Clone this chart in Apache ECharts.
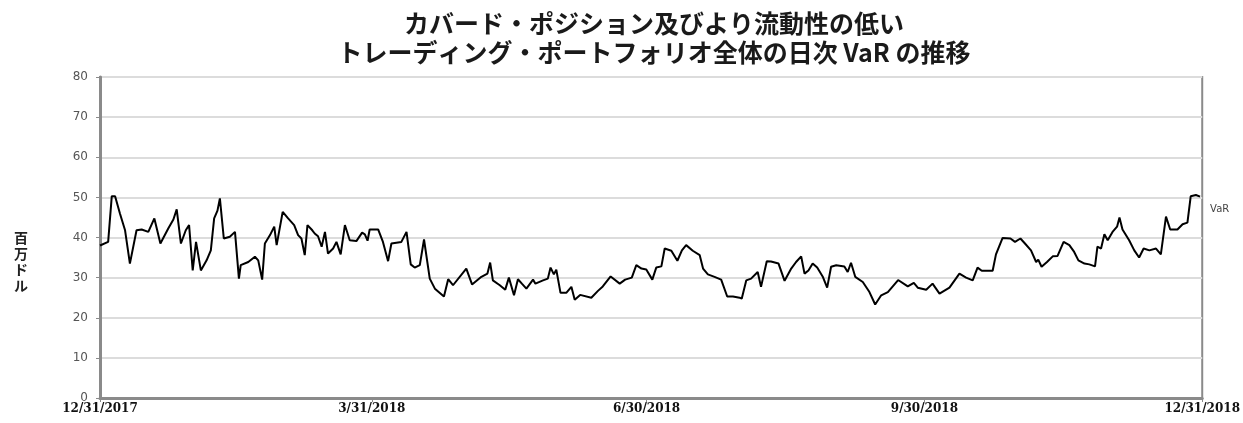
<!DOCTYPE html>
<html>
<head>
<meta charset="utf-8">
<script src="https://cdn.jsdelivr.net/npm/echarts@6/dist/echarts.min.js"></script>
<style>
html,body{margin:0;padding:0;background:#fff;}
#chart{width:1243px;height:423px;}
</style>
</head>
<body>
<div id="chart"></div>
<script>
// Days since 12/31/2017
const days = [
0,2.7,3.9,5.0,6.6,8.3,9.9,12.1,13.8,16.0,18.0,20.0,22.6,24.3,25.4,26.8,28.4,29.5,30.7,31.8,
33.4,35.3,36.7,37.8,38.9,39.7,41.0,43.0,44.7,46.0,46.6,49.1,51.3,52.4,53.7,54.6,56.3,57.7,58.5,60.5,
62.3,64.3,65.6,66.7,67.8,68.7,70.3,71.1,72.2,73.4,74.5,75.5,77.2,78.3,79.7,81.1,82.7,84.9,86.8,87.7,
88.6,89.3,92.1,93.7,95.4,96.5,99.8,101.5,102.9,104.2,105.9,107.3,109.2,110.9,113.9,115.3,116.9,121.3,123.2,126.3,
128.3,129.2,130.1,132.4,134.2,135.4,137.1,138.4,139.7,141.2,143.4,144.2,146.7,148.3,149.2,150.3,151.1,152.5,154.4,156.1,
157.2,159.0,162.7,164.9,166.5,169.1,172.1,173.9,176.1,177.6,179.3,180.9,182.9,184.2,185.9,187.0,189.2,191.2,192.7,194.1,
196.3,198.6,199.7,201.3,203.5,205.7,207.7,209.6,211.8,212.5,214.0,215.6,217.8,218.9,220.8,222.2,224.7,226.7,228.9,230.5,
232.2,233.3,234.6,236.0,237.5,239.3,240.8,242.1,243.8,246.5,247.6,248.7,250.1,252.6,254.8,256.7,258.7,260.9,264.3,267.5,
269.5,270.8,273.6,275.7,278.0,281.3,284.6,286.8,289.0,290.6,292.0,295.6,296.7,298.9,301.5,303.0,304.8,306.3,308.3,310.0,
310.7,311.8,313.6,315.5,317.1,319.1,321.0,322.6,324.0,326.0,327.6,329.5,330.3,331.5,332.6,333.7,335.3,336.8,337.6,338.6,
340.8,342.5,344.1,345.6,347.5,349.7,351.3,353.0,354.4,356.8,358.5,360.1,361.2,362.9,364.3
];
// Daily VaR (millions of dollars)
const varValues = [
38,38.9,50.3,50.3,46,41.8,33.5,41.8,42,41.4,44.75,38.5,42.25,44.5,47,38.5,41.8,43.1,31.8,38.9,
31.8,34.3,36.8,44.75,46.7,49.75,39.75,40.2,41.4,29.75,33.1,33.9,35.2,34.3,29.5,38.5,40.6,42.7,38.1,46.4,
44.75,43.1,40.6,39.75,35.6,43.1,41.8,41,40.3,37.7,41.4,36,37.25,38.9,35.8,43.1,39.3,39.1,41.2,40.8,
39.2,42,42,38.9,34.1,38.5,38.9,41.4,33.3,32.5,33.1,39.5,29.75,27.25,25.3,29.6,28.1,32.25,28.3,30.2,
31,33.75,29.3,28.1,27,30,25.6,29.6,28.5,27.25,29.5,28.5,29.3,29.75,32.5,30.8,32,26.2,26.2,27.7,
24.5,25.7,25,26.7,27.8,30.3,28.5,29.5,30,33.1,32.25,32,29.5,32.5,32.8,37.25,36.7,34.2,36.8,38.1,
36.7,35.6,32.25,30.8,30.2,29.5,25.3,25.3,25,24.75,29.3,29.75,31.4,27.7,34.1,34,33.5,29.2,32.25,33.9,
35.3,31,31.8,33.5,32.5,30.3,27.5,32.7,33.1,32.8,31.4,33.7,30.2,28.9,26.4,23.3,25.6,26.4,29.4,27.8,
28.7,27.5,27,28.5,26,27.5,31,30,29.3,32.5,31.7,31.7,35.8,39.9,39.75,38.9,39.75,38.5,36.8,33.9,
34.5,32.7,33.9,35.3,35.4,38.9,38.1,36.4,34.3,33.5,33.3,32.8,37.7,37.25,40.8,39.3,41.4,42.7,45,42,
39.3,36.8,35,37.25,36.8,37.25,35.8,45.2,42,42,43.3,43.7,50.3,50.6,50.2
];
const tickDays = [0, 90, 181, 273, 365];
const tickLabels = ['12/31/2017', '3/31/2018', '6/30/2018', '9/30/2018', '12/31/2018'];
const seriesName = 'VaR';
const yAxisName = '百万ドル';
const titleText = 'カバード・ポジション及びより流動性の低い\nトレーディング・ポートフォリオ全体の日次 VaR の推移';

const chart = echarts.init(document.getElementById('chart'), null, {renderer: 'canvas'});
const data = days.map((d, i) => [d, varValues[i]]);
chart.setOption({
  animation: false,
  backgroundColor: '#fff',
  title: {
    text: titleText,
    left: 649,
    top: 4,
    textAlign: 'center',
    textStyle: {
      fontFamily: 'Noto Sans CJK JP',
      fontSize: 25,
      fontWeight: 'bold',
      lineHeight: 29,
      color: '#1a1a1a'
    }
  },
  graphic: [{
    type: 'text',
    left: 14,
    top: 230,
    style: {
      text: yAxisName.split('').join('\n'),
      font: 'bold 14px "Noto Sans CJK JP"',
      lineHeight: 16,
      fill: '#222',
      align: 'center'
    }
  }],
  grid: {
    left: 100, right: 40, top: 77, bottom: 25,
    show: true, borderColor: '#8a8a8a', borderWidth: 2, backgroundColor: 'transparent'
  },
  xAxis: {
    type: 'value',
    min: 0, max: 365,
    splitLine: {show: false},
    axisLine: {show: true, lineStyle: {color: '#8a8a8a', width: 3}},
    axisTick: {show: true, customValues: tickDays, length: 4, lineStyle: {color: '#8a8a8a', width: 1}},
    axisLabel: {
      customValues: tickDays,
      formatter: v => tickLabels[tickDays.indexOf(Math.round(v))] || '',
      fontFamily: 'DejaVu Serif', fontWeight: 'bold', fontSize: 12, color: '#111', margin: 5
    }
  },
  yAxis: {
    type: 'value',
    min: 0, max: 80, interval: 10,
    axisLine: {show: true, lineStyle: {color: '#8a8a8a', width: 3}},
    axisTick: {show: true, length: 4, lineStyle: {color: '#8a8a8a'}},
    axisLabel: {fontFamily: 'DejaVu Sans', fontSize: 12, color: '#555', margin: 12},
    splitLine: {show: true, lineStyle: {color: '#dcdcdc', width: 2}}
  },
  series: [{
    name: seriesName,
    type: 'line',
    data: data,
    showSymbol: false,
    symbol: 'none',
    lineStyle: {color: '#000', width: 2},
    endLabel: {show: true, formatter: seriesName, color: '#444', fontSize: 10, fontFamily: 'DejaVu Sans', offset: [2, 13]}
  }]
});
</script>
</body>
</html>
